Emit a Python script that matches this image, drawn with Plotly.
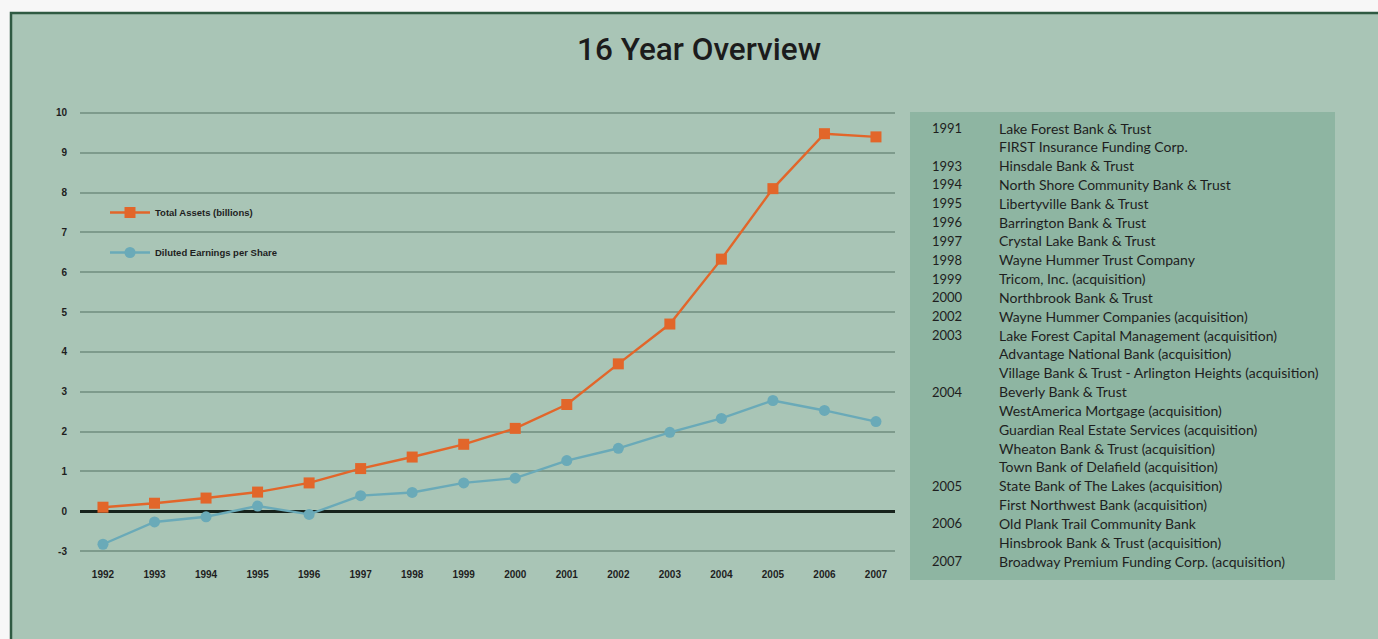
import plotly.graph_objects as go

years = list(range(1992, 2008))
total_assets = [0.1, 0.2, 0.33, 0.48, 0.71, 1.07, 1.36, 1.68, 2.08, 2.68, 3.7, 4.7, 6.33, 8.1, 9.48, 9.4]
eps = [-0.83, -0.27, -0.14, 0.13, -0.08, 0.39, 0.47, 0.71, 0.83, 1.27, 1.58, 1.98, 2.33, 2.78, 2.53, 2.25]
y_tickvals = [-1, 0, 1, 2, 3, 4, 5, 6, 7, 8, 9, 10]
y_ticktext = ["-3", "0", "1", "2", "3", "4", "5", "6", "7", "8", "9", "10"]

history_years = ["1991", "", "1993", "1994", "1995", "1996", "1997", "1998", "1999", "2000",
                 "2002", "2003", "", "", "2004", "", "", "", "", "2005", "", "2006", "", "2007"]
history_items = [
    "Lake Forest Bank & Trust",
    "FIRST Insurance Funding Corp.",
    "Hinsdale Bank & Trust",
    "North Shore Community Bank & Trust",
    "Libertyville Bank & Trust",
    "Barrington Bank & Trust",
    "Crystal Lake Bank & Trust",
    "Wayne Hummer Trust Company",
    "Tricom, Inc. (acquisition)",
    "Northbrook Bank & Trust",
    "Wayne Hummer Companies (acquisition)",
    "Lake Forest Capital Management (acquisition)",
    "Advantage National Bank (acquisition)",
    "Village Bank & Trust - Arlington Heights (acquisition)",
    "Beverly Bank & Trust",
    "WestAmerica Mortgage (acquisition)",
    "Guardian Real Estate Services (acquisition)",
    "Wheaton Bank & Trust (acquisition)",
    "Town Bank of Delafield (acquisition)",
    "State Bank of The Lakes (acquisition)",
    "First Northwest Bank (acquisition)",
    "Old Plank Trail Community Bank",
    "Hinsbrook Bank & Trust (acquisition)",
    "Broadway Premium Funding Corp. (acquisition)",
]

W, H = 1378, 639
ML, MR, MT, MB = 80, 483, 109, 84
PW, PH = W - ML - MR, H - MT - MB


def px_x(px):
    return (px - ML) / PW


def px_y(py):
    return (H - MB - py) / PH


BG = "#a9c5b6"
PANEL = "#8eb5a2"
ORANGE = "#e2662a"
BLUE = "#6aaab8"
TXT = "#1e1e1e"

fig = go.Figure()
fig.add_trace(go.Scatter(
    x=years, y=total_assets, name="Total Assets (billions)", mode="lines+markers",
    line=dict(color=ORANGE, width=2.4), marker=dict(symbol="square", size=11, color=ORANGE),
    legendgroup="a"))
fig.add_trace(go.Scatter(
    x=years, y=eps, name="Diluted Earnings per Share", mode="lines+markers",
    line=dict(color=BLUE, width=2.4), marker=dict(symbol="circle", size=11, color=BLUE),
    legendgroup="b"))

shapes = [
    dict(type="rect", xref="paper", yref="paper", x0=px_x(11), x1=px_x(1400), y0=px_y(13), y1=px_y(660),
         fillcolor=BG, line=dict(color="#2f5a42", width=2.5), layer="below"),
    dict(type="rect", xref="paper", yref="paper", x0=px_x(910), x1=px_x(1335), y0=px_y(112), y1=px_y(580),
         fillcolor=PANEL, line=dict(width=0), layer="below"),
]

annotations = [
    dict(text="16 Year Overview", xref="paper", yref="paper", x=px_x(699), y=px_y(50),
         xanchor="center", yanchor="middle", showarrow=False,
         font=dict(family="Roboto", size=31.5, color="#1c1c1c", weight=500)),
]
row0, step = 128, 18.83
for i, (yr, item) in enumerate(zip(history_years, history_items)):
    yy = px_y(row0 + i * step)
    if yr:
        annotations.append(dict(text=yr, xref="paper", yref="paper", x=px_x(930), y=yy,
                                xanchor="left", yanchor="middle", showarrow=False,
                                font=dict(family="Lato", size=13, color=TXT)))
    annotations.append(dict(text=item, xref="paper", yref="paper", x=px_x(997), y=yy,
                            xanchor="left", yanchor="middle", showarrow=False,
                            font=dict(family="Lato", size=14, color=TXT)))

tickfont = dict(family="Liberation Sans", size=10, color=TXT, weight="bold")

fig.update_layout(
    width=W, height=H,
    margin=dict(l=ML, r=MR, t=MT, b=MB),
    paper_bgcolor="#f7f7f7",
    plot_bgcolor="rgba(0,0,0,0)",
    shapes=shapes,
    annotations=annotations,
    showlegend=True,
    legend=dict(x=px_x(105), y=px_y(198), xanchor="left", yanchor="top",
                bgcolor="rgba(0,0,0,0)", tracegroupgap=21, itemwidth=40,
                font=dict(family="Liberation Sans", size=9.5, color=TXT, weight="bold")),
    xaxis=dict(range=[1991.554, 2007.369], tickvals=years, ticktext=[str(y) for y in years],
               showgrid=False, zeroline=False, showline=False,
               ticks="outside", ticklen=10, tickcolor="rgba(0,0,0,0)", tickfont=tickfont),
    yaxis=dict(range=[-1.1, 10.1], tickvals=y_tickvals, ticktext=y_ticktext,
               showgrid=True, gridcolor="#7e9b8c", gridwidth=1.5,
               zeroline=True, zerolinecolor="#17231c", zerolinewidth=2.5,
               showline=False, ticks="outside", ticklen=10, tickcolor="rgba(0,0,0,0)",
               tickfont=tickfont),
)

fig.write_html("out.html", config={"displayModeBar": False},
               post_script="document.body.style.margin='0';")
